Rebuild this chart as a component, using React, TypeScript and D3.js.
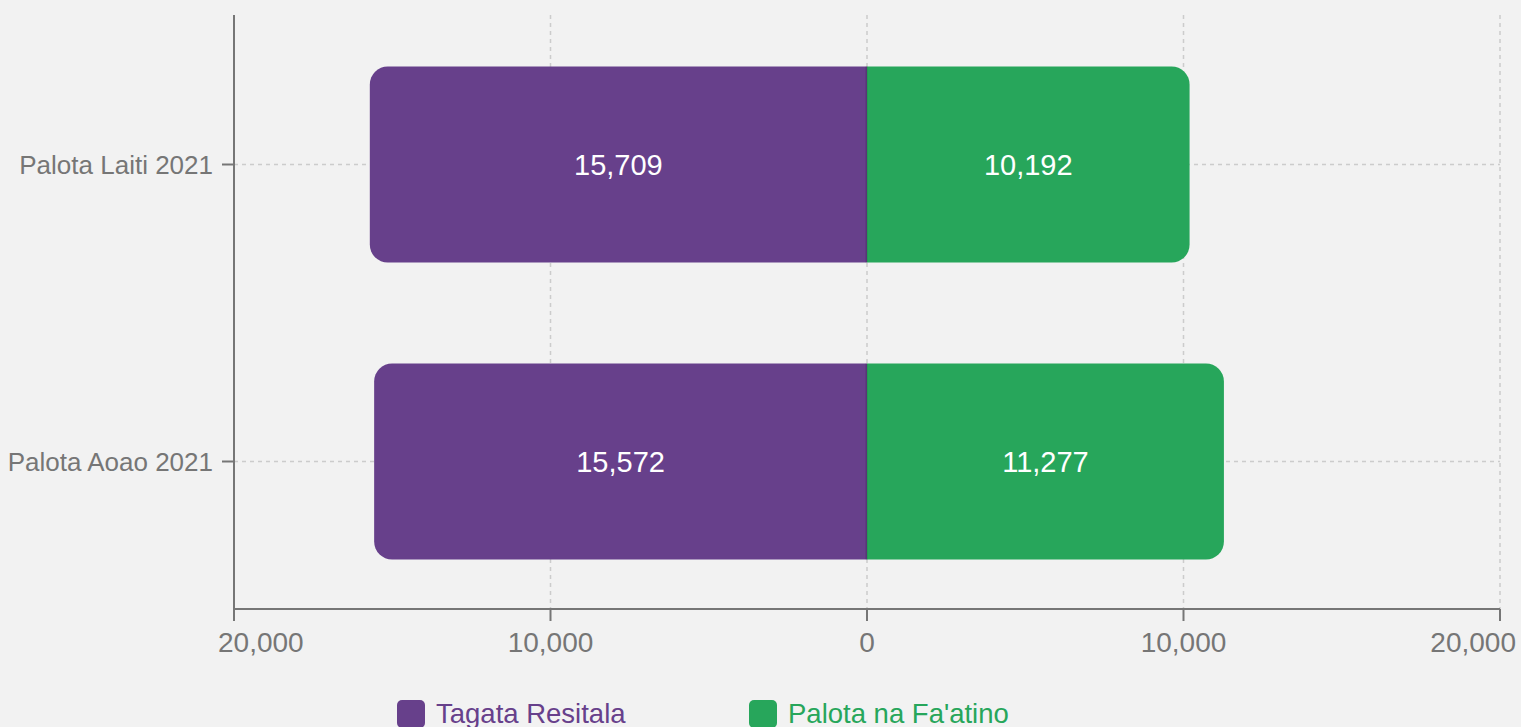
import React from "react";
import * as d3 from "d3";

const categories = ["Palota Laiti 2021", "Palota Aoao 2021"];
const residents = [15709, 15572];
const workplaces = [10192, 11277];
const seriesNames = ["Tagata Resitala", "Palota na Fa'atino"];
const xTicks = [-20000, -10000, 0, 10000, 20000];

const W = 1521;
const H = 727;
const M = { left: 234, right: 21, top: 15, bottom: 118 };
const PURPLE = "#67408b";
const GREEN = "#27a65b";
const AXIS = "#767676";
const GRID = "#cccccc";
const FONT = "'Liberation Sans', Arial, Helvetica, sans-serif";

function roundedBar(x0: number, x1: number, y0: number, y1: number, r: number, side: "left" | "right") {
  const p = d3.path();
  if (side === "left") {
    p.moveTo(x1, y0);
    p.lineTo(x0 + r, y0);
    p.arcTo(x0, y0, x0, y0 + r, r);
    p.lineTo(x0, y1 - r);
    p.arcTo(x0, y1, x0 + r, y1, r);
    p.lineTo(x1, y1);
    p.closePath();
  } else {
    p.moveTo(x0, y0);
    p.lineTo(x1 - r, y0);
    p.arcTo(x1, y0, x1, y0 + r, r);
    p.lineTo(x1, y1 - r);
    p.arcTo(x1, y1, x1 - r, y1, r);
    p.lineTo(x0, y1);
    p.closePath();
  }
  return p.toString();
}

export default function App() {
  const x = d3.scaleLinear().domain([-20000, 20000]).range([M.left, W - M.right]);
  const y = d3
    .scaleBand<string>()
    .domain(categories)
    .range([M.top + 1, H - M.bottom + 1])
    .paddingInner(0.34)
    .paddingOuter(0.17);
  const fmt = d3.format(",");
  const axisY = H - M.bottom;
  const bw = y.bandwidth();
  const r = 18;

  return (
    <div style={{ position: "absolute", left: 0, top: 0, width: W, height: H, overflow: "hidden" }}>
      <svg width={W} height={H} style={{ display: "block", background: "#f2f2f2", fontFamily: FONT }}>
        <rect x={0} y={0} width={W} height={H} fill="#f2f2f2" />
        {/* vertical grid */}
        {xTicks.filter((t) => t !== -20000).map((t) => (
          <line key={"vg" + t} x1={x(t)} x2={x(t)} y1={M.top} y2={axisY} stroke={GRID} strokeWidth={1.5} strokeDasharray="4,4" />
        ))}
        {/* horizontal grid */}
        {categories.map((c) => (
          <line key={"hg" + c} x1={M.left} x2={W - M.right} y1={(y(c) as number) + bw / 2} y2={(y(c) as number) + bw / 2} stroke={GRID} strokeWidth={1.5} strokeDasharray="4,4" />
        ))}
        {/* bars */}
        {categories.map((c, i) => {
          const y0 = y(c) as number;
          const y1 = y0 + bw;
          const xl = x(-residents[i]);
          const xr = x(workplaces[i]);
          const x0 = x(0);
          return (
            <g key={"b" + c}>
              <path d={roundedBar(xl, x0, y0, y1, r, "left")} fill={PURPLE} />
              <path d={roundedBar(x0, xr, y0, y1, r, "right")} fill={GREEN} />
              <line x1={x0 - 0.5} x2={x0 - 0.5} y1={y0} y2={y1} stroke="#000" strokeOpacity={0.15} strokeWidth={2} />
              <text x={(xl + x0) / 2} y={(y0 + y1) / 2} dy="0.35em" textAnchor="middle" fill="#fff" fontSize={29}>
                {fmt(residents[i])}
              </text>
              <text x={(xr + x0) / 2} y={(y0 + y1) / 2} dy="0.35em" textAnchor="middle" fill="#fff" fontSize={29}>
                {fmt(workplaces[i])}
              </text>
            </g>
          );
        })}
        {/* left axis */}
        <line x1={M.left} x2={M.left} y1={M.top} y2={axisY} stroke={AXIS} strokeWidth={2} />
        {categories.map((c) => {
          const cy = (y(c) as number) + bw / 2;
          return (
            <g key={"yt" + c}>
              <line x1={M.left - 12} x2={M.left} y1={cy} y2={cy} stroke={AXIS} strokeWidth={2} />
              <text x={M.left - 21} y={cy} dy="0.35em" textAnchor="end" fill={AXIS} fontSize={26}>
                {c}
              </text>
            </g>
          );
        })}
        {/* bottom axis */}
        <line x1={M.left} x2={W - M.right} y1={axisY} y2={axisY} stroke={AXIS} strokeWidth={2} />
        {xTicks.map((t, i) => {
          const first = i === 0;
          const last = i === xTicks.length - 1;
          const tx = first ? x(t) - 16 : last ? x(t) + 16 : x(t);
          const anchor = first ? "start" : last ? "end" : "middle";
          return (
            <g key={"xt" + t}>
              <line x1={x(t)} x2={x(t)} y1={axisY} y2={axisY + 12} stroke={AXIS} strokeWidth={2} />
              <text x={tx} y={axisY + 43} textAnchor={anchor} fill={AXIS} fontSize={28}>
                {fmt(Math.abs(t))}
              </text>
            </g>
          );
        })}
        {/* legend */}
        {seriesNames.map((s, i) => {
          const lx = i === 0 ? 397 : 749;
          const col = i === 0 ? PURPLE : GREEN;
          return (
            <g key={"lg" + s}>
              <rect x={lx} y={700} width={28} height={28} rx={5} fill={col} />
              <text x={lx + 39} y={723} fill={col} fontSize={27.5}>
                {s}
              </text>
            </g>
          );
        })}
      </svg>
    </div>
  );
}
